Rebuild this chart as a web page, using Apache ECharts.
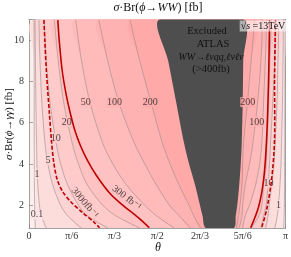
<!DOCTYPE html>
<html><head><meta charset="utf-8">
<script src="https://cdn.jsdelivr.net/npm/echarts@6/dist/echarts.min.js"></script>
<style>html,body{margin:0;padding:0;background:#fff}#c{width:291px;height:257px}</style>
</head><body><div id="c"></div>
<script>
// y samples (σ·Br(ϕ→γγ) [fb]) at which each contour's θ (degrees) was read
const ySamples = [11, 9, 7, 5, 4, 3, 2, 1.5, 0.9];
const levels = [0.1, 1, 5, 10, 20, 50, 100, 200, 400];
// left branches (θ in degrees)
const left01  = [3.56, 3.63, 3.63, 3.63, 3.70, 3.77, 3.98, 4.12, 4.53];
const left1   = [4.26, 4.53, 4.81, 5.30, 5.58, 6.14, 7.33, 8.65, 12.14];
const left5   = [6.99, 7.71, 9.00, 11.23, 13.26, 16.60, 22.19, 27.04, 36.84];
const left10  = [10.53, 12.14, 14.72, 19.12, 22.19, 27.04, 34.71, 40.81, 55.26];
const left20  = [17.79, 20.51, 24.28, 30.35, 34.71, 40.81, 51.77, 60.70, 77.72];
const left50  = [32.72, 36.84, 42.70, 51.77, 58.82, 68.23, 81.28, 89.30, 101.86];
const left100 = [48.98, 55.26, 63.00, 73.95, 81.28, 89.30, 98.58, 105.20, 113.44];
const left200 = [70.81, 77.72, 85.61, 93.70, 99.00, 105.20, 112.33, 115.60, 120.42];
const left400 = [91.40, 97.67, 103.26, 108.84, 112.33, 116.51, 120.00, 121.74, 124.19];
// right branches (θ in degrees)
const right01  = [179.79, 179.72, 179.65, 179.51, 179.44, 179.37, 179.23, 179.09, 178.74];
const right1   = [178.60, 178.26, 177.91, 177.21, 176.86, 176.16, 175.12, 174.28, 172.47];
const right5   = [175.39, 174.77, 174.07, 172.74, 171.98, 170.44, 168.56, 167.79, 166.05];
const right10  = [173.02, 172.47, 171.07, 169.53, 168.77, 167.79, 166.47, 164.79, 162.70];
const right20  = [170.23, 169.05, 168.28, 167.16, 166.47, 164.79, 163.40, 161.37, 156.00];
const right50  = [166.74, 165.84, 164.65, 163.40, 161.86, 159.07, 154.74, 151.74, 149.86];
const right100 = [163.95, 162.77, 160.47, 157.12, 154.74, 151.74, 150.00, 149.51, 147.42];
const right200 = [158.37, 155.93, 153.35, 150.56, 150.00, 149.51, 148.05, 147.07, 145.60];
const right400 = [150.70, 150.35, 150.00, 149.30, 148.60, 147.56, 146.16, 145.12, 143.72];
// luminosity reach lines [θ deg, y]
const lumi300Left  = [[20.23,10.97],[21.28,9.93],[23.37,8.48],[26.16,7.34],[28.95,6.47],[32.09,5.65],[35.93,4.92],[40.81,4.20],[47.09,3.47],[56.51,2.60],[65.58,2.02],[76.74,1.40],[84.42,0.91]];
const lumi3000Left = [[10.47,10.97],[11.16,9.93],[12.21,8.48],[14.30,6.47],[15.70,5.17],[17.44,4.05],[19.88,3.23],[23.72,2.65],[29.30,2.17],[37.67,1.64],[45.35,1.20],[49.53,0.91]];
const lumi300Right  = [[168.84,10.97],[168.14,8.10],[166.74,5.17],[164.65,3.23],[161.16,1.93],[155.58,0.91]];
const lumi3000Right = [[173.02,10.97],[172.33,8.10],[172.33,5.17],[170.23,3.23],[166.74,1.78],[163.26,0.91]];
// contour labels
const contourLabelText = ['0.1','1','5','10','20','50','100','200','200','100','10','1'];
const contourLabelPos = [[5.6,1.54],[5.6,3.52],[13.3,4.2],[18.8,5.26],[26.5,6.04],[39.8,7.0],[60.0,7.0],[85.1,7.0],[153.5,7.0],[159.8,6.04],[168.1,3.04],[175.1,2.02]];
const contourLabelBand = [0,1,2,3,4,5,6,7,7,6,3,1];
const xTickLabels = ['0','π/6','π/3','π/2','2π/3','5π/6','π'];
const yTickValues = [2, 4, 6, 8, 10];

const bandLefts = [left01,left1,left5,left10,left20,left50,left100,left200,left400];
const bandRights = [right01,right1,right5,right10,right20,right50,right100,right200,right400];
const baseColor = '#fdeeee';
const bandColors = ['#fde5e5','#fddcdc','#fdd3d3','#ffcaca','#ffc2c2','#ffbaba','#ffb2b2','#ffa9a9','#4e4e4e'];
const serif = '"Liberation Serif","DejaVu Serif",serif';
const SM = 0.3;

const chart = echarts.init(document.getElementById('c'));

function clipGroup(params, children){
  const cs = params.coordSys;
  return {type:'group', children, clipPath:{type:'rect', shape:{x:cs.x,y:cs.y,width:cs.width,height:cs.height}}};
}
function branch(arr, api){ return arr.map((t,k)=>api.coord([t, ySamples[k]])); }
function band(i, params, api){
  const pts = branch(bandLefts[i], api).concat(branch(bandRights[i], api).reverse());
  return clipGroup(params, [{type:'polygon', shape:{points:pts, smooth:SM}, style:{fill:bandColors[i]}}]);
}
const grayCurves = [];
for (let i=0;i<8;i++){ grayCurves.push(bandLefts[i]); grayCurves.push(bandRights[i]); }
const redCurves = [lumi300Left, lumi3000Left, lumi300Right, lumi3000Right];
const redDash = [false, true, false, true];

const axisCommon = {
  type:'value', min:0, max:180, interval:30, splitLine:{show:false},
  axisLine:{show:true, onZero:false, lineStyle:{color:'#8a8a8a', width:0.8}},
  axisTick:{show:true, inside:true, length:4, lineStyle:{color:'#8a8a8a', width:0.8}},
  minorTick:{show:true, splitNumber:3, length:2, lineStyle:{color:'#8a8a8a', width:0.6}}
};
const yCommon = {
  type:'value', min:0.9, max:11, splitLine:{show:false},
  axisLine:{show:true, onZero:false, lineStyle:{color:'#8a8a8a', width:0.8}},
  axisTick:{show:true, inside:true, length:4, customValues:yTickValues, lineStyle:{color:'#8a8a8a', width:0.8}}
};

chart.setOption({
  animation:false,
  grid:{left:29, right:4, top:19.5, bottom:29, show:true, backgroundColor:baseColor, borderWidth:0},
  xAxis:[
    Object.assign({}, axisCommon, {position:'bottom',
      axisLabel:{show:true, margin:3, fontFamily:serif, fontSize:10, color:'#333',
        formatter:(v)=>xTickLabels[Math.round(v/30)]}}),
    Object.assign({}, axisCommon, {position:'top', axisLabel:{show:false}})
  ],
  yAxis:[
    Object.assign({}, yCommon, {position:'left',
      axisLabel:{show:true, customValues:yTickValues, margin:5, fontFamily:serif, fontSize:10, color:'#333'}}),
    Object.assign({}, yCommon, {position:'right', axisLabel:{show:false}})
  ],
  graphic:[
    {type:'text', x:158, y:8, style:{text:'{i|σ}·Br({i|ϕ}→{i|WW}) [fb]', font:'12px '+serif, fill:'#111', align:'center', verticalAlign:'middle',
      rich:{i:{fontStyle:'italic', fontFamily:serif, fontSize:12}}}},
    {type:'text', x:9, y:124, rotation:Math.PI/2, style:{text:'{i|σ}·Br({i|ϕ}→{i|γγ}) [fb]', font:'11px '+serif, fill:'#111', align:'center', verticalAlign:'middle',
      rich:{i:{fontStyle:'italic', fontFamily:serif, fontSize:11}}}},
    {type:'text', x:158, y:248, style:{text:'θ', font:'italic 12px '+serif, fill:'#111', align:'center', verticalAlign:'middle'}},
    {type:'text', x:207, y:31, z:100, style:{text:'Excluded', font:'10.5px '+serif, fill:'#111', align:'center', verticalAlign:'middle'}},
    {type:'text', x:213, y:44, z:100, style:{text:'ATLAS', font:'10.5px '+serif, fill:'#111', align:'center', verticalAlign:'middle'}},
    {type:'text', x:211, y:57, z:100, style:{text:'WW→ℓνqq,ℓνℓν', font:'italic 10px '+serif, fill:'#111', align:'center', verticalAlign:'middle'}},
    {type:'text', x:211, y:69, z:100, style:{text:'(>400fb)', font:'10.5px '+serif, fill:'#111', align:'center', verticalAlign:'middle'}},
    {type:'text', x:263, y:26, z:100, style:{text:'√{i|s} =13TeV', font:'10px '+serif, fill:'#111', align:'center', verticalAlign:'middle',
      backgroundColor:'rgba(255,255,255,0.55)', padding:[1,1,0,1], rich:{i:{fontStyle:'italic', fontFamily:serif, fontSize:10}}}}
  ],
  series:[
    {type:'custom', z:1, data:[0,1,2,3,4,5,6,7].map(i=>[0,1]), renderItem:(p,api)=>band(p.dataIndex,p,api), silent:true},
    {type:'custom', z:2, data:grayCurves.map(()=>[0,1]), silent:true,
      renderItem:(p,api)=>clipGroup(p,[{type:'polyline', shape:{points:branch(grayCurves[p.dataIndex],api), smooth:SM},
        style:{stroke:'#9a8c8c', lineWidth:0.6, fill:null}}])},
    {type:'custom', z:3, data:[[0,1]], silent:true, renderItem:(p,api)=>band(8,p,api)},
    {type:'custom', z:4, data:redCurves.map(()=>[0,1]), silent:true,
      renderItem:(p,api)=>clipGroup(p,[{type:'polyline', shape:{points:redCurves[p.dataIndex].map(d=>api.coord(d)), smooth:SM},
        style:{stroke:'#c00000', lineWidth:1.6, fill:null, lineDash: redDash[p.dataIndex]?[4,2]:null}}])},
    {type:'scatter', z:3, symbolSize:1, itemStyle:{color:'rgba(0,0,0,0)'}, silent:true,
      data:contourLabelPos.map((d,i)=>({value:d, label:{formatter:contourLabelText[i], backgroundColor:bandColors[contourLabelBand[i]]}})),
      label:{show:true, position:'inside', fontFamily:serif, fontSize:10, color:'#222', padding:[0,0]}},
    {type:'scatter', z:5, symbolSize:1, itemStyle:{color:'rgba(0,0,0,0)'}, silent:true,
      data:[{value:[39.1,2.12], label:{formatter:'3000fb⁻¹', rotate:-50}},{value:[68.4,2.36], label:{formatter:'300 fb⁻¹', rotate:-38}}],
      label:{show:true, position:'inside', fontFamily:serif, fontSize:10, color:'#222'}}
  ]
});
</script></body></html>
